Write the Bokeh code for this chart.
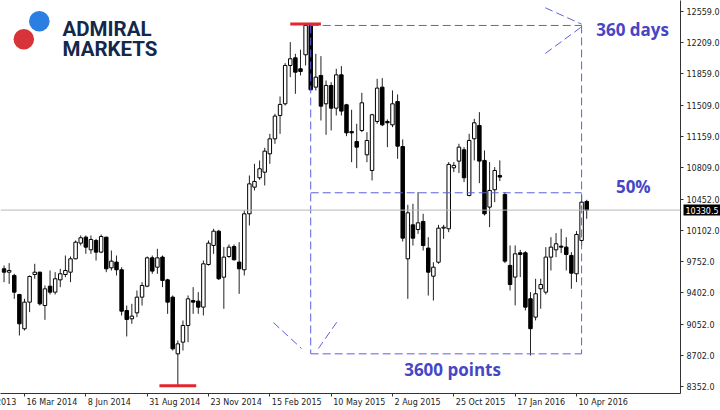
import pandas as pd
from bokeh.plotting import figure
from bokeh.models import (Range1d, FixedTicker, ColumnDataSource, Span)
from bokeh.embed import file_html
from bokeh.resources import INLINE
from bokeh.core.properties import value

# ---------------- data: weekly candles (first candle: week of 16 Feb 2014) ----------------
first_week = "2014-02-16"
opens = [9672, 9634, 9597, 9384, 8999, 9298, 9608, 9634, 9260, 9477,
         9410, 9548, 9608, 9634, 9784, 9960, 10027, 9885, 9990, 9859,
         10027, 9683, 9747, 9661, 9204, 9111, 9178, 9354, 9477, 9795,
         9690, 9803, 9548, 9354, 8718, 8849, 9036, 9316, 9309, 9242,
         9720, 9934, 10094, 9578, 9810, 9922, 9747, 9661, 10289, 10588,
         10693, 10756, 10962, 11130, 11392, 11523, 11953, 12039, 11916, 12073,
         12402, 11710, 11841, 11523, 11729, 11474, 11848, 11512, 11212, 11100,
         11224, 10951, 10775, 11325, 11710, 11325, 11287, 11549, 11044, 9784,
         10165, 10113, 10203, 9904, 9589, 9746, 10128, 10121, 10805, 10880,
         11007, 10495, 11131, 11280, 10888, 10364, 10559, 10719, 10506, 9710,
         9579, 9852, 9852, 9336, 9130, 9448, 9410, 9803, 9885, 9926,
         9915, 9822, 9616, 9990, 10428]
highs = [9709, 9735, 9616, 9391, 9335, 9597, 9728, 9640, 9485, 9653,
         9634, 9672, 9821, 9810, 9990, 10046, 10046, 10046, 10008, 10057,
         10030, 9877, 9821, 9690, 9260, 9279, 9429, 9522, 9810, 9821,
         9896, 9821, 9560, 9373, 8868, 9092, 9373, 9466, 9410, 9765,
         9990, 10121, 10109, 9915, 9945, 9945, 9971, 10326, 10719, 10850,
         10887, 11029, 11186, 11411, 11605, 11979, 12215, 12084, 12130, 12418,
         12410, 12084, 12058, 11785, 11766, 11916, 11946, 11523, 11456, 11299,
         11646, 11205, 11411, 11803, 11811, 11347, 11673, 11628, 11123, 10390,
         10401, 10532, 10289, 10027, 9746, 10165, 10165, 10869, 10869, 11075,
         11037, 11187, 11355, 11430, 11000, 10869, 10813, 10888, 10532, 9934,
         9934, 9885, 9870, 9410, 9560, 9560, 9915, 10027, 10072, 10121,
         10027, 9859, 10095, 10495, 10446]
lows = [9522, 9503, 9335, 8924, 8980, 9186, 9560, 9260, 9099, 9384,
        9384, 9466, 9578, 9522, 9780, 9934, 9840, 9840, 9765, 9847,
        9634, 9653, 9597, 9148, 8913, 9055, 9129, 9260, 9466, 9616,
        9616, 9466, 9167, 8755, 8360, 8755, 8849, 9167, 9167, 9148,
        9709, 9840, 9548, 9223, 9795, 9765, 9391, 9597, 10158, 10551,
        10670, 10607, 10850, 11074, 11186, 11504, 11822, 11635, 11841, 11953,
        11673, 11673, 11336, 11175, 11224, 11392, 11392, 11160, 10868, 10801,
        11205, 10868, 10663, 11299, 11272, 11037, 11261, 10906, 9978, 9335,
        9933, 10064, 9877, 9372, 9316, 9728, 10008, 10083, 10757, 10746,
        10645, 10484, 10888, 10633, 10270, 10140, 10420, 10656, 9736, 9429,
        9261, 9579, 9205, 8700, 9093, 9224, 9384, 9653, 9803, 9848,
        9653, 9448, 9523, 9934, 10233]
closes = [9634, 9653, 9410, 9055, 9298, 9586, 9634, 9279, 9447, 9410,
          9560, 9616, 9653, 9784, 9971, 10020, 9915, 10001, 9859, 10034,
          9672, 9758, 9661, 9197, 9103, 9141, 9354, 9485, 9795, 9646,
          9795, 9541, 9298, 8774, 8830, 9036, 9335, 9298, 9242, 9728,
          9960, 10094, 9560, 9803, 9915, 9773, 9672, 10289, 10625, 10652,
          10794, 10992, 11130, 11385, 11516, 11953, 12028, 11878, 11885, 12402,
          11680, 11822, 11497, 11729, 11474, 11848, 11441, 11197, 11197, 11037,
          11534, 11111, 11400, 11699, 11287, 11310, 11523, 11048, 10016, 10300,
          10016, 10188, 9933, 9634, 9690, 10128, 10139, 10843, 10832, 11037,
          10693, 11112, 11310, 10880, 10289, 10551, 10775, 10701, 9758, 9496,
          9840, 9833, 9242, 9000, 9392, 9496, 9803, 9915, 9953, 9915,
          9833, 9623, 10057, 10420, 10330.5]
last_price = 10330.5

y_ticks = [12559, 12209, 11859, 11509, 11159, 10809, 10452, 10102,
           9752, 9402, 9052, 8702, 8352]
x_tick_dates = ["2013-12-22", "2014-03-16", "2014-06-08", "2014-08-31", "2014-11-23",
                "2015-02-15", "2015-05-10", "2015-08-02", "2015-10-25", "2016-01-17",
                "2016-04-10"]
x_tick_labels = ["22 Dec 2013", "16 Mar 2014", "8 Jun 2014", "31 Aug 2014", "23 Nov 2014",
                 "15 Feb 2015", "10 May 2015", "2 Aug 2015", "25 Oct 2015", "17 Jan 2016",
                 "10 Apr 2016"]

# cycle annotation
cycle_start = "2015-04-12"
cycle_end = "2016-04-17"
box_top = 12402
box_bottom = 8718
box_mid = 10525
peak_date, peak_high = "2015-04-05", 12418
trough_date, trough_low = "2014-10-12", 8360
notes = ["360 days", "50%", "3600 points"]
note_dates = ["2016-05-07", "2016-06-03", "2015-08-18"]
note_prices = [12362, 10595, 8542]

# ---------------- helpers ----------------
WEEK = 7 * 24 * 3600 * 1000.0
def ms(d):
    return pd.Timestamp(d).value / 1e6

ref = ms("2014-03-16")
x_start = ref - 4.696 * WEEK
x_end = ref + 128.35 * WEEK
y_start, y_end = 8273, 12682

dates = pd.date_range(first_week, periods=len(opens), freq="7D")
inc = [c >= o for o, c in zip(opens, closes)]
src = ColumnDataSource(dict(
    date=dates, open=opens, high=highs, low=lows, close=closes,
    top=[max(o, c) for o, c in zip(opens, closes)],
    bottom=[min(o, c) for o, c in zip(opens, closes)],
    fill=["white" if u else "black" for u in inc],
))

p = figure(width=720, height=410, x_axis_type="datetime",
           x_range=Range1d(x_start, x_end), y_range=Range1d(y_start, y_end),
           y_axis_location="right", output_backend="svg", toolbar_location=None,
           min_border=0, min_border_bottom=17, min_border_right=40)
p.background_fill_color = "white"
p.border_fill_color = "white"
p.outline_line_color = None
p.xgrid.visible = False
p.ygrid.visible = False

# axes: lines and ticks from Bokeh, labels drawn as text next to the ticks
for ax in (p.xaxis, p.yaxis):
    ax.major_tick_in = 0
    ax.major_tick_out = 3
    ax.minor_tick_line_color = None
    ax.axis_line_color = "#333333"
    ax.major_tick_line_color = "#333333"
    ax.major_label_text_font_size = "1px"
    ax.major_label_text_alpha = 0
    ax.major_label_standoff = 0
    ax.axis_label_standoff = 0
    ax.axis_label_text_font_size = "1px"
p.yaxis.ticker = FixedTicker(ticks=y_ticks)
p.xaxis.ticker = FixedTicker(ticks=[ms(d) for d in x_tick_dates])

p.text(x=[x_end] * len(y_ticks), y=y_ticks, text=[f"{t:.1f}" for t in y_ticks],
       x_offset=6, text_baseline="middle", text_align="left",
       text_font=value("DejaVu Sans"), text_font_size="8px", text_color="#222222",
       level="overlay")
p.text(x=[ms(d) for d in x_tick_dates], y=[y_start] * len(x_tick_dates), text=x_tick_labels,
       x_offset=2, y_offset=4, text_baseline="top", text_align="left",
       text_font=value("DejaVu Sans"), text_font_size="8px", text_color="#222222",
       level="overlay")

# current price line
p.add_layout(Span(location=last_price, dimension="width", line_color="#b8b8b8", line_width=1))

# candles
p.segment(x0="date", y0="high", x1="date", y1="low", source=src, line_color="#222222", line_width=1)
p.vbar(x="date", width=0.68 * WEEK, top="top", bottom="bottom", source=src,
       fill_color="fill", line_color="black", line_width=1)

# red marks
red_half = 3.0 * WEEK
p.segment(x0=[ms(peak_date) - red_half, ms(trough_date) - 3.6 * WEEK],
          y0=[peak_high, trough_low],
          x1=[ms(peak_date) + red_half, ms(trough_date) + 3.6 * WEEK],
          y1=[peak_high, trough_low], line_color="#e3262d", line_width=3)

# dashed cycle box
cs, ce = ms(cycle_start), ms(cycle_end)
dash_col = "#5f5fe0"
p.segment(x0=[cs, cs, cs, ce, cs], y0=[box_top, box_top, box_bottom, box_top, box_mid],
          x1=[ce, cs, ce, ce, ce], y1=[box_top, box_bottom, box_bottom, box_bottom, box_mid],
          line_color=dash_col, line_width=1, line_dash="8 4")
# arrow heads
p.segment(x0=[ce - 7.1 * WEEK, ce - 7.1 * WEEK, cs - 7.3 * WEEK, cs + 1.5 * WEEK],
          y0=[12600, 12088, 9069, 8778],
          x1=[ce, ce, cs - 1.8 * WEEK, cs + 5.2 * WEEK],
          y1=[box_top + 15, box_top - 15, 8778, 9081],
          line_color=dash_col, line_width=1, line_dash="8 4")

# notes
p.text(x=[ms(d) for d in note_dates], y=note_prices, text=notes,
       text_font=value("Open Sans"), text_font_style="bold", text_font_size="17px",
       text_color="#4646c6", text_baseline="middle", text_align="left", level="overlay")

# price tag on axis
p.text(x=[x_end], y=[last_price], text=[f"{last_price:.1f}"], x_offset=3,
       text_baseline="middle", text_align="left",
       text_font=value("DejaVu Sans"), text_font_size="8px",
       text_color="white", background_fill_color="black", padding=2, level="overlay")

# logo (in reference pixel space)
p.extra_x_ranges = {"px": Range1d(0, 680)}
p.extra_y_ranges = {"py": Range1d(393, 0)}
p.circle(x=[38.8], y=[20.7], radius=10.3, x_range_name="px", y_range_name="py",
         fill_color="#2b7fe3", line_color=None)
p.circle(x=[23.3], y=[38.7], radius=10.3, x_range_name="px", y_range_name="py",
         fill_color="#d8333b", line_color=None)
p.text(x=[62, 62], y=[28.5, 48.5], text=["ADMIRAL", "MARKETS"],
       x_range_name="px", y_range_name="py",
       text_font=value("Roboto"), text_font_style="bold",
       text_font_size="20.5px", text_color="#13284b", text_baseline="alphabetic")

open("out.html", "w").write(file_html(p, INLINE))
